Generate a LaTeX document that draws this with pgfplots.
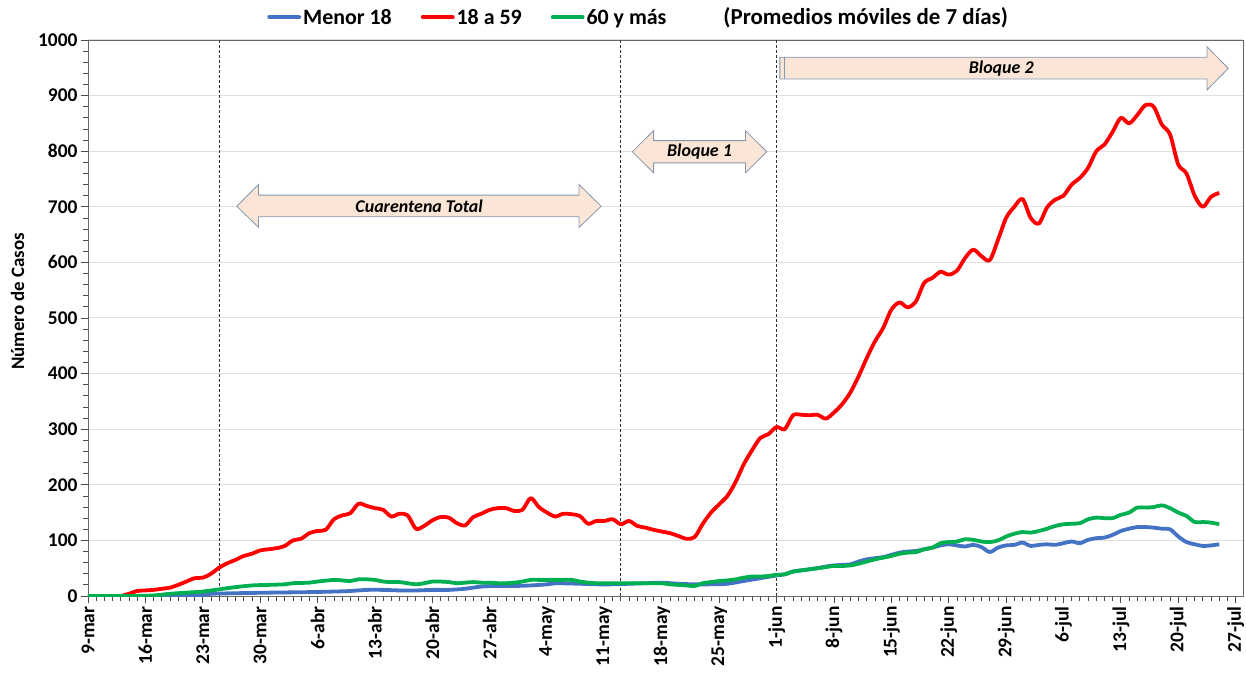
\documentclass[border=0pt]{standalone}
\usepackage{pgfplots}
\pgfplotsset{compat=1.18}
\usepackage{fontspec}
\setmainfont{Carlito}
\definecolor{cblue}{HTML}{4472C4}
\definecolor{cred}{HTML}{FF0000}
\definecolor{cgreen}{HTML}{00B050}
\definecolor{afill}{HTML}{FBE5D6}
\definecolor{aline}{HTML}{8497B0}
\begin{document}
\begin{tikzpicture}
\begin{axis}[
  name=ax, at={(0,0)}, anchor=south west,
  width=1155bp, height=556bp, scale only axis,
  xmin=0, xmax=140.9, ymin=0, ymax=1000,
  axis line style={black!60, line width=0.9bp},
  xtick={0,7,...,140},
  xticklabels={9-mar,16-mar,23-mar,30-mar,6-abr,13-abr,20-abr,27-abr,4-may,11-may,18-may,25-may,1-jun,8-jun,15-jun,22-jun,29-jun,6-jul,13-jul,20-jul,27-jul},
  minor x tick num=6,
  ytick={0,100,...,1000},
  minor y tick num=4,
  xtick pos=bottom, ytick pos=left,
  tick align=outside, major tick length=7bp, minor tick length=5bp,
  every tick/.style={black!70, line width=0.8bp},
  ymajorgrids, major grid style={black!12, line width=1bp},
  /pgf/number format/assume math mode=true,
  /pgf/number format/1000 sep={},
  x tick label style={rotate=90, anchor=east, font=\bfseries\fontsize{19.5}{21}\selectfont},
  y tick label style={font=\bfseries\fontsize{19.5}{21}\selectfont},
  ylabel={Número de Casos},
  ylabel style={font=\bfseries\fontsize{19}{21}\selectfont, at={(axis description cs:-0.061,0.53)}, anchor=center},
  legend columns=4,
  legend style={at={(axis description cs:0.1525,1.041)}, anchor=west, draw=none, fill=none,
    font=\bfseries\fontsize{22}{24}\selectfont,
    /tikz/every even column/.append style={column sep=27bp}},
  legend image code/.code={\draw[#1, line cap=round] (0bp,0bp) -- (30bp,0bp);},
  every axis plot/.append style={line width=3.8bp, smooth, tension=0.5, line join=round},
]
% vertical dashed markers
\draw[black!80, densely dashed, line width=0.8bp] (axis cs:16,0) -- (axis cs:16,1000);
\draw[black!80, densely dashed, line width=0.8bp] (axis cs:65,0) -- (axis cs:65,1000);
\draw[black!80, densely dashed, line width=0.8bp] (axis cs:84,0) -- (axis cs:84,1000);

\addplot[cblue] coordinates {
(0,0)(5,0)(10,0)(14,2)(15,4)(18,5)(22,6)(27,7)(30,8)(32,9)(34,11)(36,11)(38,10)(40,10)(42,11)(44,11)(46,13)(48,17)(50,18)(52,18)(54,19)(56,21)(57,23)(60,22)(62,21)(64,21)(66,22)(68,23)(70,24)(72,22)(74,21)(76,21)(78,22)(80,27)(82,32)(84,37)(85,39)(86,44)(87,46)(88,48)(89,50)(90,53)(91,55)(92,56)(93,57)(94,62)(95,66)(96,68)(97,70)(98,74)(99,78)(100,80)(101,81)(102,84)(103,87)(104,91)(105,93)(106,91)(107,89)(108,92)(109,88)(110,79)(111,87)(112,91)(113,92)(114,96)(115,90)(116,92)(117,93)(118,92)(119,95)(120,98)(121,95)(122,101)(123,104)(124,105)(125,110)(126,117)(127,121)(128,124)(129,124)(130,123)(131,121)(132,120)(133,107)(134,97)(135,93)(136,90)(137,91)(138,93)
};
\addlegendentry{Menor 18}
\addplot[cred] coordinates {
(0,0)(1,0)(2,0)(3,0)(4,0)(5,4)(6,9)(7,10)(8,11)(9,13)(10,15)(11,20)(12,26)(13,32)(14,33)(15,40)(16,51)(17,59)(18,65)(19,72)(20,76)(21,82)(22,84)(23,86)(24,90)(25,100)(26,103)(27,113)(28,117)(29,119)(30,138)(31,145)(32,149)(33,166)(34,162)(35,158)(36,155)(37,143)(38,148)(39,145)(40,121)(41,126)(42,136)(43,142)(44,141)(45,131)(46,127)(47,142)(48,148)(49,155)(50,158)(51,158)(52,153)(53,155)(54,176)(55,160)(56,150)(57,143)(58,148)(59,147)(60,144)(61,130)(62,135)(63,135)(64,138)(65,129)(66,135)(67,126)(68,123)(69,119)(70,116)(71,113)(72,108)(73,103)(74,106)(75,130)(76,150)(77,165)(78,180)(79,205)(80,237)(81,262)(82,284)(83,291)(84,304)(85,300)(86,325)(87,326)(88,325)(89,326)(90,319)(91,330)(92,345)(93,366)(94,395)(95,428)(96,458)(97,482)(98,515)(99,528)(100,519)(101,530)(102,563)(103,572)(104,583)(105,578)(106,585)(107,608)(108,623)(109,611)(110,604)(111,640)(112,680)(113,700)(114,714)(115,680)(116,670)(117,699)(118,713)(119,720)(120,740)(121,752)(122,770)(123,800)(124,812)(125,835)(126,860)(127,850)(128,865)(129,883)(130,880)(131,848)(132,830)(133,776)(134,760)(135,720)(136,700)(137,718)(138,725)
};
\addlegendentry{18 a 59}
\addplot[cgreen] coordinates {
(0,0)(5,0)(8,1)(10,4)(12,6)(14,8)(16,12)(18,16)(20,19)(22,20)(24,21)(25,23)(27,24)(28,26)(30,29)(31,28)(32,27)(33,30)(34,30)(35,29)(36,26)(37,25)(38,25)(39,23)(40,21)(41,23)(42,26)(43,26)(44,25)(45,23)(46,24)(47,25)(48,24)(49,24)(50,23)(51,23)(52,24)(53,26)(54,29)(55,29)(56,29)(57,29)(58,29)(59,29)(60,26)(61,24)(62,23)(63,23)(64,23)(65,23)(66,23)(67,23)(68,23)(69,23)(70,23)(71,21)(72,20)(73,19)(74,18)(75,23)(76,25)(77,27)(78,28)(79,30)(80,33)(81,35)(82,35)(83,36)(84,38)(85,39)(86,44)(87,46)(88,48)(89,50)(90,52)(91,54)(92,54)(93,55)(94,58)(95,62)(96,66)(97,69)(98,72)(99,76)(100,78)(101,79)(102,84)(103,87)(104,95)(105,97)(106,98)(107,102)(108,101)(109,98)(110,97)(111,100)(112,107)(113,112)(114,115)(115,114)(116,117)(117,121)(118,126)(119,129)(120,130)(121,131)(122,138)(123,141)(124,140)(125,140)(126,146)(127,150)(128,159)(129,159)(130,160)(131,163)(132,158)(133,150)(134,144)(135,133)(136,133)(137,132)(138,129)
};
\addlegendentry{60 y más}
\addlegendimage{empty legend}
\addlegendentry{\hspace{26bp}{\fontsize{23}{24}\selectfont(Promedios móviles de 7 días)}}

% annotation arrows
\draw[aline, fill=afill, line width=0.8bp] (axis cs:18.15,701) -- (axis cs:20.8,740) -- (axis cs:20.8,721) -- (axis cs:59.9,721) -- (axis cs:59.9,740) -- (axis cs:62.6,701) -- (axis cs:59.9,663) -- (axis cs:59.9,682) -- (axis cs:20.8,682) -- (axis cs:20.8,663) -- cycle;
\node[font=\bfseries\itshape\fontsize{18}{20}\selectfont] at (axis cs:40.4,701) {Cuarentena Total};

\draw[aline, fill=afill, line width=0.8bp] (axis cs:66.4,799) -- (axis cs:69.0,837) -- (axis cs:69.0,819) -- (axis cs:80.2,819) -- (axis cs:80.2,837) -- (axis cs:82.8,799) -- (axis cs:80.2,761) -- (axis cs:80.2,779) -- (axis cs:69.0,779) -- (axis cs:69.0,761) -- cycle;
\node[font=\bfseries\itshape\fontsize{18}{20}\selectfont] at (axis cs:74.6,799) {Bloque 1};

\draw[aline, fill=afill, line width=0.8bp] (axis cs:84.4,969) -- (axis cs:136.5,969) -- (axis cs:136.5,988) -- (axis cs:139.1,949) -- (axis cs:136.5,910) -- (axis cs:136.5,930) -- (axis cs:84.4,930) -- cycle;
\draw[aline, line width=0.8bp] (axis cs:85.0,969) -- (axis cs:85.0,930);
\node[font=\bfseries\itshape\fontsize{18}{20}\selectfont] at (axis cs:111.4,949) {Bloque 2};
\end{axis}
\pgfresetboundingbox
\useasboundingbox (-88bp,-78bp) rectangle (1158bp,596bp);
\end{tikzpicture}
\end{document}
